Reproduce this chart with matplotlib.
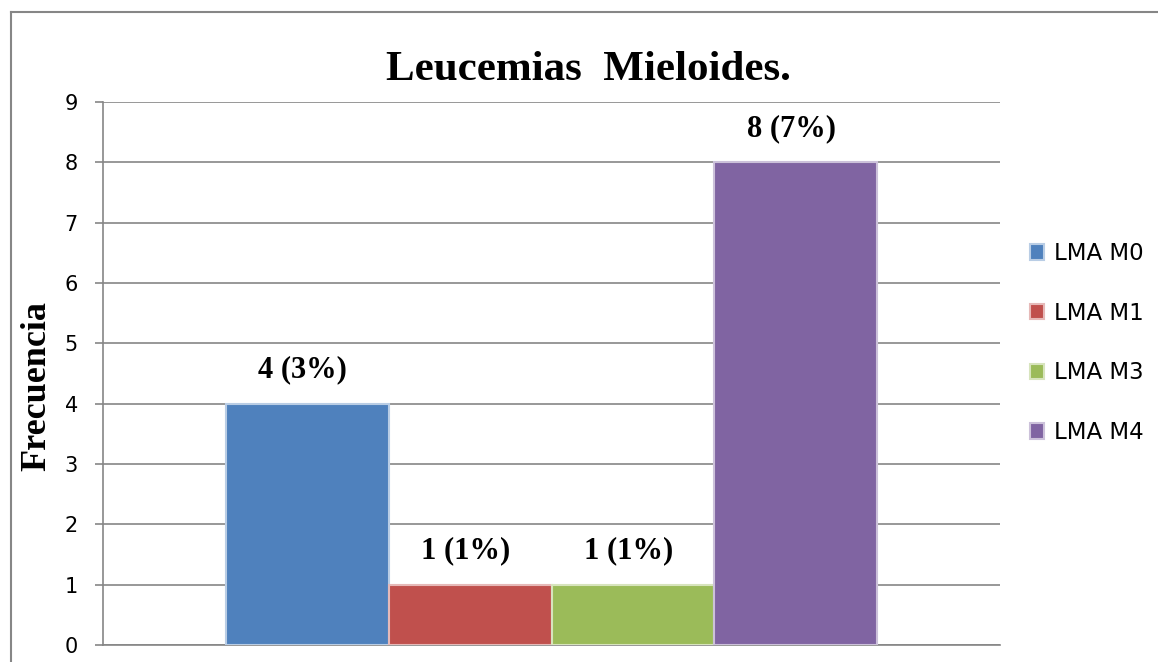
import matplotlib
matplotlib.use('Agg')
import matplotlib.pyplot as plt
from matplotlib.lines import Line2D
import numpy as np

# datos
series = ['LMA M0', 'LMA M1', 'LMA M3', 'LMA M4']
frecuencias = [4, 1, 1, 8]
etiquetas = ['4 (3%)', '1 (1%)', '1 (1%)', '8 (7%)']
colores = ['#4F81BD', '#C0504D', '#9BBB59', '#8064A2']
bordes = ['#B9CDE5', '#E6B9B8', '#D7E4BD', '#CCC1DA']

W, H = 1158, 662
fig = plt.figure(figsize=(W / 100, H / 100), dpi=100)
ax = fig.add_axes([103 / W, 1 - 645 / H, 897 / W, 543 / H])

ancho = 0.1817
offsets = (np.arange(len(series)) - 1.5) * ancho
for i in range(len(series)):
    ax.bar(offsets[i], frecuencias[i], width=ancho, color=colores[i],
           edgecolor=bordes[i], linewidth=1.5, label=series[i], zorder=3)
    ax.text(offsets[i] - 0.005, frecuencias[i] + 0.56, etiquetas[i], ha='center', va='center',
            fontsize=22, fontweight='bold', family='Liberation Serif')

ax.set_xlim(-0.5, 0.5)
ax.set_ylim(0, 9)
ax.set_yticks(range(10))
ax.set_xticks([])
ax.yaxis.grid(True, color='#868686', linewidth=1.2, zorder=0)
ax.set_axisbelow(True)
for s in ['top', 'right']:
    ax.spines[s].set_visible(False)
for s in ['left', 'bottom']:
    ax.spines[s].set_color('#868686')
    ax.spines[s].set_linewidth(1.2)
ax.tick_params(axis='y', length=6, width=1.2, color='#868686', labelsize=15, pad=12)

# titulo y eje
fig.text(588 / W, 1 - 70 / H, 'Leucemias  Mieloides.', fontsize=31, fontweight='bold',
         family='Liberation Serif', ha='center', va='center')
fig.text(37 / W, 1 - 386 / H, 'Frecuencia', fontsize=26, fontweight='bold',
         family='Liberation Serif', ha='center', va='center', rotation=90)

ax.legend(loc='center left', bbox_to_anchor=(1.01, 0.556), frameon=False,
          fontsize=16.5, handlelength=0.65, handleheight=0.65, handletextpad=0.4,
          labelspacing=1.6)

# marco exterior
fig.add_artist(Line2D([11 / W, 11 / W], [0, 1 - 12 / H], color='#868686', linewidth=1.5))
fig.add_artist(Line2D([11 / W, 1], [1 - 12 / H, 1 - 12 / H], color='#868686', linewidth=1.5))

fig.savefig('out.png', dpi=100)
